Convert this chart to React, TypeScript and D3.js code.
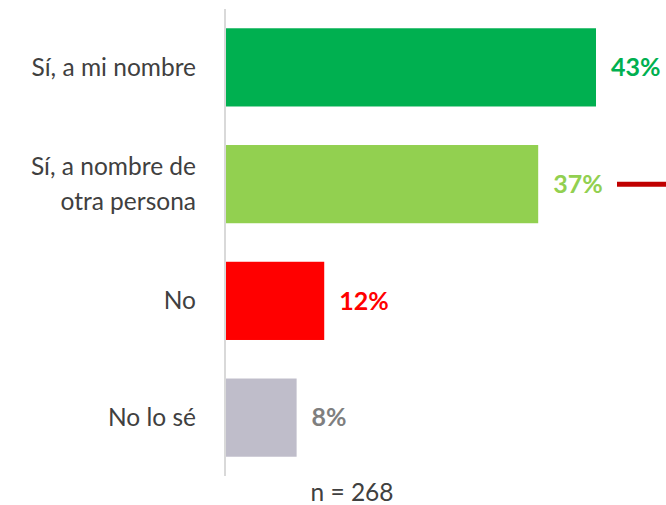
import { useEffect, useRef } from 'react';
import * as d3 from 'd3';

const categories = [['Sí, a mi nombre'], ['Sí, a nombre de', 'otra persona'], ['No'], ['No lo sé']];
const values = [43, 36.3, 11.5, 8.3];
const valueLabels = ['43%', '37%', '12%', '8%'];
const barColors = ['#00b050', '#92d050', '#ff0000', '#bfbdca'];
const labelColors = ['#00b050', '#92d050', '#ff0000', '#7f7f7f'];

const App = () => {
  const chartRef = useRef<SVGSVGElement | null>(null);

  useEffect(() => {
    if (!chartRef.current) return;
    const svg = d3.select(chartRef.current);
    svg.selectAll('*').remove();

    const font = 'Lato, "Open Sans", sans-serif';
    const x0 = 225;

    const y = d3.scaleBand<number>()
      .domain(d3.range(values.length))
      .range([9, 476])
      .paddingInner(0.33)
      .paddingOuter(0.165);

    const x = d3.scaleLinear().domain([0, 43]).range([x0, 596]);

    svg.selectAll('rect.bar')
      .data(values)
      .enter()
      .append('rect')
      .attr('class', 'bar')
      .attr('x', x(0) + 1)
      .attr('y', (_, i) => y(i)!)
      .attr('width', d => x(d) - x(0) - 1)
      .attr('height', y.bandwidth())
      .attr('fill', (_, i) => barColors[i]);

    // axis line
    svg.append('line')
      .attr('x1', x0).attr('x2', x0)
      .attr('y1', 9).attr('y2', 476)
      .attr('stroke', '#d9d9d9')
      .attr('stroke-width', 2);

    // value labels
    svg.selectAll('text.val')
      .data(values)
      .enter()
      .append('text')
      .attr('class', 'val')
      .attr('x', d => x(d) + 15)
      .attr('y', (_, i) => y(i)! + y.bandwidth() / 2)
      .attr('dy', '0.35em')
      .attr('font-family', font)
      .attr('font-weight', 'bold')
      .attr('font-size', 25)
      .attr('fill', (_, i) => labelColors[i])
      .text((_, i) => valueLabels[i]);

    // category labels
    categories.forEach((lines, i) => {
      const cy = y(i)! + y.bandwidth() / 2;
      const t = svg.append('text')
        .attr('x', 196)
        .attr('text-anchor', 'end')
        .attr('font-family', font)
        .attr('font-size', 24.5)
        .attr('fill', '#404040');
      lines.forEach((line, j) => {
        t.append('tspan')
          .attr('x', 196)
          .attr('y', cy + (j - (lines.length - 1) / 2) * 35)
          .attr('dy', '0.35em')
          .text(line);
      });
    });

    // red marker line
    svg.append('line')
      .attr('x1', 617).attr('x2', 666)
      .attr('y1', y(1)! + y.bandwidth() / 2)
      .attr('y2', y(1)! + y.bandwidth() / 2)
      .attr('stroke', '#c00000')
      .attr('stroke-width', 5);

    svg.append('text')
      .attr('x', 352)
      .attr('y', 492)
      .attr('dy', '0.35em')
      .attr('text-anchor', 'middle')
      .attr('font-family', font)
      .attr('font-size', 24.5)
      .attr('fill', '#404040')
      .text('n = 268');
  }, []);

  return (
    <svg
      ref={chartRef}
      width={666}
      height={505}
      style={{ position: 'absolute', left: 0, top: 0, background: '#fff' }}
    />
  );
};

export default App;
